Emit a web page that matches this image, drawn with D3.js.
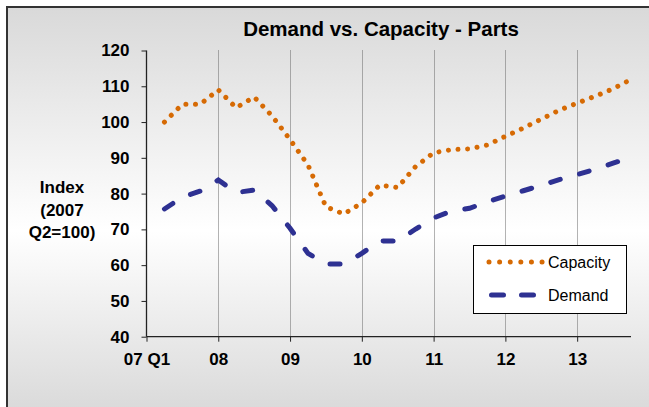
<!DOCTYPE html>
<html>
<head>
<meta charset="utf-8">
<script src="https://cdn.jsdelivr.net/npm/d3@7"></script>
<style>
    body { margin: 0; background: #fff; }
    text { font-family: "Liberation Sans", Arial, sans-serif; fill: #000; }
</style>
</head>
<body>
<div id="chart"></div>
<script>
var svgWidth = 649;
var svgHeight = 407;

// quarters since 07 Q1 (07 Q2 = 1 ... 13 Q4 = 27)
var quarters = d3.range(1, 28);
var capacity = [100, 105, 105, 109, 104, 107, 101.7, 95.1, 88, 76.3, 74.3, 77.4, 82.4, 81.7,
    87.6, 91.4, 92.3, 92.5, 93.6, 96, 98.3, 100.8, 103.3, 105.3, 107.2, 109.3, 111.9];
var demand = [75.7, 79, 80.7, 83.8, 80.3, 81, 76.6, 70.3, 63.3, 60.3, 60.3, 63.3, 66.8, 66.7,
    70.1, 73.2, 75.1, 75.9, 77.7, 79.3, 80.8, 82.3, 83.9, 85.3, 86.8, 88.5, 90.1];
var xTickPos = [0, 4, 8, 12, 16, 20, 24];
var xTickLabels = ["07 Q1", "08", "09", "10", "11", "12", "13"];
var yTicks = [40, 50, 60, 70, 80, 90, 100, 110, 120];
var seriesNames = ["Capacity", "Demand"];

var plot = { left: 146.5, right: 631, top: 50.5, bottom: 336.7 };

var svg = d3.select("#chart")
    .append("svg")
    .attr("width", svgWidth)
    .attr("height", svgHeight);

var grad = svg.append("defs").append("linearGradient")
    .attr("id", "bg")
    .attr("x1", 0).attr("y1", 0)
    .attr("x2", 0).attr("y2", 1);
grad.append("stop").attr("offset", "0%").attr("stop-color", "#d9d9d9");
grad.append("stop").attr("offset", "55%").attr("stop-color", "#ffffff");
grad.append("stop").attr("offset", "100%").attr("stop-color", "#d9d9d9");

svg.append("rect")
    .attr("x", 7)
    .attr("y", 7)
    .attr("width", svgWidth)
    .attr("height", svgHeight)
    .attr("fill", "url(#bg)")
    .attr("stroke", "#333")
    .attr("stroke-width", 2);

var xScale = d3.scaleLinear()
    .domain([0, 27])
    .range([plot.left, plot.right]);

var yScale = d3.scaleLinear()
    .domain([40, 120])
    .range([plot.bottom, plot.top]);

// dotted year gridlines
svg.append("g")
    .selectAll("line")
    .data(xTickPos.slice(1))
    .enter()
    .append("line")
    .attr("x1", d => Math.round(xScale(d)) + 0.5)
    .attr("x2", d => Math.round(xScale(d)) + 0.5)
    .attr("y1", plot.top)
    .attr("y2", plot.bottom)
    .attr("stroke", "#666")
    .attr("stroke-width", 1)
    .attr("stroke-dasharray", "1,1");

var leftAxis = d3.axisLeft(yScale)
    .tickValues(yTicks)
    .tickSize(5)
    .tickPadding(12);

var bottomAxis = d3.axisBottom(xScale)
    .tickValues(xTickPos)
    .tickFormat((d, i) => xTickLabels[i])
    .tickSize(5)
    .tickPadding(11);

var yAxisG = svg.append("g")
    .attr("transform", `translate(${plot.left}, 0)`)
    .call(leftAxis);

var xAxisG = svg.append("g")
    .attr("transform", `translate(0, ${plot.bottom})`)
    .call(bottomAxis);

[yAxisG, xAxisG].forEach(function (g) {
    g.select(".domain").attr("stroke", "#222").attr("stroke-width", 1.3);
    g.selectAll(".tick line").attr("stroke", "#222");
    g.selectAll(".tick text")
        .attr("font-size", "17px")
        .attr("font-weight", "bold")
        .attr("font-family", "Liberation Sans, Arial, sans-serif")
        .attr("fill", "#000");
});
yAxisG.select(".domain").attr("d", `M-0,${plot.top}V${plot.bottom}`);
xAxisG.select(".domain").attr("d", `M${plot.left},0H${plot.right}`);

var line = d3.line()
    .x(d => xScale(d[0]))
    .y(d => yScale(d[1]));

svg.append("path")
    .datum(quarters.map((q, i) => [q, demand[i]]))
    .attr("d", line)
    .attr("fill", "none")
    .attr("stroke", "#2e3192")
    .attr("stroke-width", 5)
    .attr("stroke-linecap", "round")
    .attr("stroke-dasharray", "10 20");

svg.append("path")
    .datum(quarters.map((q, i) => [q, capacity[i]]))
    .attr("d", line)
    .attr("fill", "none")
    .attr("stroke", "#d66a04")
    .attr("stroke-width", 5)
    .attr("stroke-linecap", "round")
    .attr("stroke-dasharray", "0.01 9.6");

svg.append("text")
    .attr("x", 381)
    .attr("y", 36)
    .attr("text-anchor", "middle")
    .attr("font-size", "20.5px")
    .attr("font-weight", "bold")
    .text("Demand vs. Capacity - Parts");

var yLabel = svg.append("text")
    .attr("text-anchor", "middle")
    .attr("font-size", "17px")
    .attr("font-weight", "bold");
["Index", "(2007", "Q2=100)"].forEach(function (t, i) {
    yLabel.append("tspan")
        .attr("x", 62)
        .attr("y", 193 + i * 22.5)
        .text(t);
});

// legend
var legend = svg.append("g");
legend.append("rect")
    .attr("x", 473.5)
    .attr("y", 245.5)
    .attr("width", 153)
    .attr("height", 68)
    .attr("fill", "#fff")
    .attr("stroke", "#000")
    .attr("stroke-width", 1);

legend.append("line")
    .attr("x1", 489).attr("x2", 543)
    .attr("y1", 262).attr("y2", 262)
    .attr("stroke", "#d66a04")
    .attr("stroke-width", 5)
    .attr("stroke-linecap", "round")
    .attr("stroke-dasharray", "0.01 10.6");

legend.append("line")
    .attr("x1", 491.5).attr("x2", 535)
    .attr("y1", 295).attr("y2", 295)
    .attr("stroke", "#2e3192")
    .attr("stroke-width", 5)
    .attr("stroke-linecap", "round")
    .attr("stroke-dasharray", "12 18");

legend.selectAll(".legText")
    .data(seriesNames)
    .enter()
    .append("text")
    .classed("legText", true)
    .attr("x", 548)
    .attr("y", (d, i) => 262 + i * 33)
    .attr("dy", "0.35em")
    .attr("font-size", "16px")
    .text(d => d);
</script>
</body>
</html>
